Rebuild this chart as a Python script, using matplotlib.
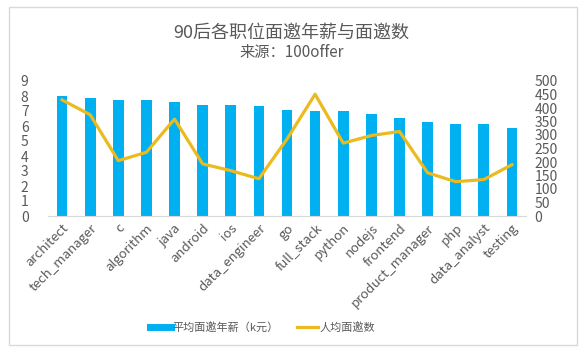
import matplotlib.pyplot as plt
from matplotlib.patches import Rectangle
from matplotlib.lines import Line2D

plt.rcParams['font.family'] = ['Noto Sans CJK SC', 'DejaVu Sans']
plt.rcParams['font.weight'] = 'light'

jobs = ["architect", "tech_manager", "c", "algorithm", "java", "android", "ios",
        "data_engineer", "go", "full_stack", "python", "nodejs", "frontend",
        "product_manager", "php", "data_analyst", "testing"]
salary = [8.0, 7.85, 7.76, 7.76, 7.6, 7.43, 7.43, 7.34, 7.08, 6.99, 6.99,
          6.81, 6.54, 6.3, 6.13, 6.13, 5.86]
invites = [430, 375, 205, 236, 359, 193, 168, 138, 285, 451, 270, 298, 313,
           160, 127, 135, 190]

bar_color = "#00B0F0"
line_color = "#EBBA1E"
text_color = "#595959"

fig = plt.figure(figsize=(5.83, 3.52), dpi=100)
# light frame around the chart
fig.patches.append(Rectangle((9 / 583, 7 / 352), 568 / 583, 338 / 352,
                             transform=fig.transFigure, fill=False,
                             edgecolor="#D9D9D9", linewidth=1))

ax = fig.add_axes([48 / 583, 1 - 216 / 352, 478 / 583, 135 / 352])
x = range(len(jobs))
ax.bar(x, salary, width=0.38, color=bar_color, zorder=2)
ax.set_xlim(-0.5, len(jobs) - 0.5)
ax.set_ylim(0, 9)
ax.set_yticks(range(0, 10))
ax.set_xticks(list(x))
ax.set_xticklabels(jobs, rotation=45, ha="right", rotation_mode="anchor",
                   fontsize=9.5, color=text_color)
ax.tick_params(axis="y", length=0, labelsize=10, labelcolor=text_color, pad=14)
ax.tick_params(axis="x", length=0, pad=4)
for s in ["top", "left", "right"]:
    ax.spines[s].set_visible(False)
ax.spines["bottom"].set_color("#D9D9D9")

ax2 = ax.twinx()
ax2.plot(list(x), invites, color=line_color, linewidth=2.3, zorder=3)
ax2.set_ylim(0, 500)
ax2.set_yticks(range(0, 501, 50))
ax2.tick_params(axis="y", length=0, labelsize=10, labelcolor=text_color, pad=6)
for s in ["top", "left", "right", "bottom"]:
    ax2.spines[s].set_visible(False)

fig.text(0.5, 1 - 33 / 352, "90后各职位面邀年薪与面邀数", ha="center", va="center",
         fontsize=13, color=text_color)
fig.text(0.5, 1 - 53 / 352, "来源：100offer", ha="center", va="center",
         fontsize=11, color=text_color)

handles = [Line2D([0], [0], color=bar_color, linewidth=5),
           Line2D([0], [0], color=line_color, linewidth=2.3)]
fig.legend(handles, ["平均面邀年薪（k元）", "人均面邀数"], loc="center",
           bbox_to_anchor=(0.45, 1 - 327 / 352), ncol=2, frameon=False,
           fontsize=8, labelcolor=text_color, handlelength=1.9,
           handletextpad=0.15, columnspacing=1.6)

fig.savefig("out.png", dpi=100)
